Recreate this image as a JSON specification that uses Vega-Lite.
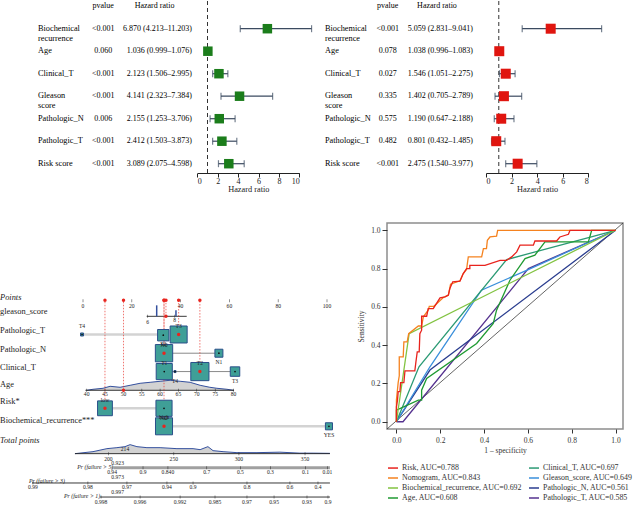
{
"$schema":"https://vega.github.io/schema/vega-lite/v6.json",
"padding":0,"background":"white","spacing":27,
"datasets":{
"fa":[
{"var":"Biochemical recurrence","lab":["Biochemical","recurrence"],"p":"<0.001","hrt":"6.870 (4.213–11.203)","hr":6.870,"lo":4.213,"hi":11.203},
{"var":"Age","lab":"Age","p":"0.060","hrt":"1.036 (0.999–1.076)","hr":1.036,"lo":0.999,"hi":1.076},
{"var":"Clinical_T","lab":"Clinical_T","p":"<0.001","hrt":"2.123 (1.506–2.995)","hr":2.123,"lo":1.506,"hi":2.995},
{"var":"Gleason score","lab":["Gleason","score"],"p":"<0.001","hrt":"4.141 (2.323–7.384)","hr":4.141,"lo":2.323,"hi":7.384},
{"var":"Pathologic_N","lab":"Pathologic_N","p":"0.006","hrt":"2.155 (1.253–3.706)","hr":2.155,"lo":1.253,"hi":3.706},
{"var":"Pathologic_T","lab":"Pathologic_T","p":"<0.001","hrt":"2.412 (1.503–3.873)","hr":2.412,"lo":1.503,"hi":3.873},
{"var":"Risk score","lab":"Risk score","p":"<0.001","hrt":"3.089 (2.075–4.598)","hr":3.089,"lo":2.075,"hi":4.598}],
"fb":[
{"var":"Biochemical recurrence","lab":["Biochemical","recurrence"],"p":"<0.001","hrt":"5.059 (2.831–9.041)","hr":5.059,"lo":2.831,"hi":9.041},
{"var":"Age","lab":"Age","p":"0.078","hrt":"1.038 (0.996–1.083)","hr":1.038,"lo":0.996,"hi":1.083},
{"var":"Clinical_T","lab":"Clinical_T","p":"0.027","hrt":"1.546 (1.051–2.275)","hr":1.546,"lo":1.051,"hi":2.275},
{"var":"Gleason score","lab":["Gleason","score"],"p":"0.335","hrt":"1.402 (0.705–2.789)","hr":1.402,"lo":0.705,"hi":2.789},
{"var":"Pathologic_N","lab":"Pathologic_N","p":"0.575","hrt":"1.190 (0.647–2.188)","hr":1.190,"lo":0.647,"hi":2.188},
{"var":"Pathologic_T","lab":"Pathologic_T","p":"0.482","hrt":"0.801 (0.432–1.485)","hr":0.801,"lo":0.432,"hi":1.485},
{"var":"Risk score","lab":"Risk score","p":"<0.001","hrt":"2.475 (1.540–3.977)","hr":2.475,"lo":1.540,"hi":3.977}],
"nlab":[
{"t":"Points","pts":-34,"row":-0.19,"it":true},
{"t":"gleason_score","pts":-34,"row":0.61,"it":false},
{"t":"Pathologic_T","pts":-34,"row":1.67,"it":false},
{"t":"Pathologic_N","pts":-34,"row":2.69,"it":false},
{"t":"Clinical_T","pts":-34,"row":3.7,"it":false},
{"t":"Age","pts":-34,"row":4.63,"it":false},
{"t":"Risk*","pts":-34,"row":5.61,"it":false},
{"t":"Biochemical_recurrence***","pts":-34,"row":6.67,"it":false},
{"t":"Total points","pts":-34,"row":7.74,"it":true}],
"nprlab":[
{"t":"Pr (failure > 5)","pts":12.4,"row":9.26},
{"t":"Pr (failure > 3)","pts":-7.4,"row":10.04},
{"t":"Pr (failure > 1)","pts":7.0,"row":10.85}],
"ntl":[
{"t":"0","pts":0,"row":0.32,"ar":0.03},{"t":"20","pts":20,"row":0.32,"ar":0.03},{"t":"40","pts":40,"row":0.32,"ar":0.03},{"t":"60","pts":60,"row":0.32,"ar":0.03},{"t":"80","pts":80,"row":0.32,"ar":0.03},{"t":"100","pts":100,"row":0.32,"ar":0.03},
{"t":"6","pts":26.5,"row":1.2,"ar":0.89},{"t":"8","pts":37.6,"row":1.12,"ar":0.89},
{"t":"40","pts":1.5,"row":5.2,"ar":5.0},{"t":"45","pts":9.0,"row":5.2,"ar":5.0},{"t":"50","pts":16.6,"row":5.2,"ar":5.0},{"t":"55","pts":24.1,"row":5.2,"ar":5.0},{"t":"60","pts":31.6,"row":5.2,"ar":5.0},{"t":"65","pts":39.1,"row":5.2,"ar":5.0},{"t":"70","pts":46.6,"row":5.2,"ar":5.0},{"t":"75","pts":54.2,"row":5.2,"ar":5.0},{"t":"80","pts":61.7,"row":5.2,"ar":5.0},
{"t":"200","pts":10.4,"row":8.8,"ar":8.52},{"t":"250","pts":37.2,"row":8.8,"ar":8.52},{"t":"300","pts":63.9,"row":8.8,"ar":8.52},{"t":"350","pts":91.0,"row":8.8,"ar":8.52},
{"t":"0.94","pts":11.9,"row":9.56,"ar":9.3},{"t":"0.9","pts":24.6,"row":9.56,"ar":9.3},{"t":"0.840","pts":34.8,"row":9.56,"ar":9.3},{"t":"0.7","pts":50.7,"row":9.56,"ar":9.3},{"t":"0.5","pts":64.5,"row":9.56,"ar":9.3},{"t":"0.3","pts":76.8,"row":9.56,"ar":9.3},{"t":"0.1","pts":91.2,"row":9.56,"ar":9.3},{"t":"0.01","pts":100.2,"row":9.56,"ar":9.3},
{"t":"0.99","pts":-20.5,"row":10.37,"ar":10.15},{"t":"0.98","pts":2.0,"row":10.37,"ar":10.15},{"t":"0.97","pts":18.0,"row":10.37,"ar":10.15},{"t":"0.94","pts":34.4,"row":10.37,"ar":10.15},{"t":"0.9","pts":45.1,"row":10.37,"ar":10.15},{"t":"0.8","pts":67.2,"row":10.37,"ar":10.15},{"t":"0.6","pts":84.8,"row":10.37,"ar":10.15},{"t":"0.4","pts":96.3,"row":10.37,"ar":10.15},
{"t":"0.998","pts":7.4,"row":11.22,"ar":10.93},{"t":"0.996","pts":23.4,"row":11.22,"ar":10.93},{"t":"0.992","pts":39.8,"row":11.22,"ar":10.93},{"t":"0.985","pts":54.1,"row":11.22,"ar":10.93},{"t":"0.97","pts":67.2,"row":11.22,"ar":10.93},{"t":"0.95","pts":78.3,"row":11.22,"ar":10.93},{"t":"0.93","pts":91.8,"row":11.22,"ar":10.93},{"t":"0.9","pts":100.4,"row":11.22,"ar":10.93},
{"t":"214","pts":17.2,"row":8.24,"ar":null},{"t":"0.923","pts":14.2,"row":9.04,"ar":null},{"t":"0.973","pts":14.2,"row":9.82,"ar":null},{"t":"0.997","pts":14.2,"row":10.65,"ar":null}],
"nline":[
{"k":"axis","pts":26.1,"pts2":42.5,"row":0.89},
{"k":"axis","pts":1.0,"pts2":61.9,"row":5.0},
{"k":"axis","pts":-3.3,"pts2":101.2,"row":8.52},
{"k":"pr5","pts":12.4,"pts2":101.2,"row":9.3},
{"k":"axis","pts":-20.9,"pts2":101.2,"row":10.15},
{"k":"axis","pts":7.0,"pts2":101.2,"row":10.93},
{"k":"conn","pts":-0.4,"pts2":33.0,"row":1.9},
{"k":"conn2","pts":33.2,"pts2":55.7,"row":2.94},
{"k":"conn2","pts":33.3,"pts2":62.3,"row":3.96},
{"k":"conn","pts":9.0,"pts2":33.2,"row":6.0},
{"k":"conn","pts":33.2,"pts2":100.8,"row":7.0}],
"ndens":[
{"g":"Age","base":5.0,"pts":[1.5,4.1,8.2,11.1,15.2,19.3,23.4,27.5,31.6,35.7,39.8,43.9,48.0,52.0,54.9,59.0,61.7],"row":[5.0,4.944,4.889,4.778,4.833,4.722,4.611,4.556,4.5,4.444,4.5,4.556,4.722,4.833,4.889,4.944,5.0]},
{"g":"Total","base":8.52,"pts":[-3.3,4.1,9.8,13.9,17.2,19.3,22.1,26.2,31.6,38.5,45.1,48.0,51.2,53.3,57.4,63.1,71.3,80.7,88.9,94.3,101.2],"row":[8.52,8.409,8.242,8.187,8.131,8.02,8.131,8.187,8.187,8.242,8.242,8.298,8.131,8.353,8.409,8.464,8.464,8.437,8.492,8.492,8.503]}],
"nspike":[{"pts":30.2,"row":0.28,"row2":0.89},{"pts":38.1,"row":0.56,"row2":0.89}],
"nbox":[
{"v":"Pathologic_T","level":"T4","pts":-0.4,"row":1.9,"n":9,"sel":false,"lp":"a"},
{"v":"Pathologic_T","level":"T2","pts":32.9,"row":1.94,"n":130,"sel":false,"lp":"b"},
{"v":"Pathologic_T","level":"T3","pts":39.2,"row":1.9,"n":289,"sel":true,"lp":"a"},
{"v":"Pathologic_N","level":"N0","pts":33.2,"row":2.94,"n":300,"sel":true,"lp":"a"},
{"v":"Pathologic_N","level":"N1","pts":55.7,"row":2.94,"n":64,"sel":false,"lp":"b"},
{"v":"Clinical_T","level":"T1","pts":33.3,"row":3.96,"n":260,"sel":false,"lp":"a"},
{"v":"Clinical_T","level":"T4","pts":37.7,"row":3.96,"n":4,"sel":false,"lp":"b"},
{"v":"Clinical_T","level":"T2","pts":47.9,"row":3.96,"n":330,"sel":true,"lp":"a"},
{"v":"Clinical_T","level":"T3","pts":62.3,"row":3.96,"n":90,"sel":false,"lp":"b"},
{"v":"Risk","level":"low","pts":9.0,"row":6.0,"n":220,"sel":true,"lp":"a"},
{"v":"Risk","level":"high","pts":33.2,"row":6.0,"n":260,"sel":false,"lp":"b"},
{"v":"Biochemical_recurrence","level":"NO","pts":33.2,"row":7.0,"n":290,"sel":true,"lp":"a"},
{"v":"Biochemical_recurrence","level":"YES","pts":100.8,"row":7.0,"n":50,"sel":false,"lp":"b"}],
"nsel":[
{"v":"gleason_score","pts":34.0,"row":0.89},
{"v":"Pathologic_T","pts":39.2,"row":1.9},
{"v":"Pathologic_N","pts":33.2,"row":2.94},
{"v":"Clinical_T","pts":47.9,"row":3.96},
{"v":"Age","pts":16.6,"row":5.0},
{"v":"Risk","pts":9.0,"row":6.0},
{"v":"Biochemical_recurrence","pts":33.2,"row":7.0}],
"roc":[
{"s":"Pathologic_T, AUC=0.585","x":[0,0.03,0.602,1],"y":[0,0,0.8,1]},
{"s":"Pathologic_N, AUC=0.561","x":[0,0.153,1],"y":[0,0.27,1]},
{"s":"Gleason_score, AUC=0.649","x":[0,0.153,0.388,0.594,1],"y":[0,0.287,0.687,0.791,1]},
{"s":"Clinical_T, AUC=0.697","x":[0,0.103,0.503,1],"y":[0,0.287,0.847,1]},
{"s":"Age, AUC=0.608","x":[0,0,0.1,0.115,0.115,0.138,0.366,0.442,0.457,0.518,0.587,0.632,0.678,0.876,0.891,1],"y":[0,0.061,0.113,0.113,0.165,0.226,0.409,0.513,0.583,0.739,0.852,0.87,0.939,0.939,1,1]},
{"s":"Biochemical_recurrence, AUC=0.692","x":[0,0.058,1],"y":[0,0.46,1]},
{"s":"Nomogram, AUC=0.843","x":[0,0,0.008,0.013,0.013,0.031,0.034,0.049,0.056,0.1,0.115,0.123,0.145,0.15,0.171,0.214,0.237,0.247,0.29,0.305,0.32,0.328,0.389,0.397,0.411,0.415,0.427,0.457,0.462,1],"y":[0,0.113,0.204,0.24,0.339,0.339,0.417,0.417,0.46,0.5,0.5,0.548,0.583,0.603,0.603,0.649,0.661,0.718,0.736,0.774,0.795,0.861,0.861,0.904,0.904,0.948,0.965,0.969,1.0,1]},
{"s":"Risk, AUC=0.788","x":[0,0,0.005,0.008,0.016,0.019,0.034,0.039,0.084,0.089,0.095,0.104,0.107,0.115,0.115,0.138,0.145,0.168,0.199,0.222,0.237,0.244,0.257,0.29,0.305,0.32,0.335,0.335,0.404,0.473,0.503,0.526,0.549,0.564,0.625,0.632,0.731,0.746,0.785,0.792,1],"y":[0,0.078,0.113,0.157,0.157,0.204,0.204,0.266,0.266,0.313,0.365,0.365,0.46,0.478,0.551,0.551,0.591,0.591,0.647,0.652,0.661,0.696,0.731,0.734,0.774,0.8,0.8,0.817,0.817,0.843,0.843,0.861,0.887,0.922,0.922,0.944,0.944,0.965,0.979,1.0,1]}],
"diag":[{"x":-0.043,"y":-0.038},{"x":1.034,"y":1.038}]
},
"vconcat":[
{"hconcat":[
{"width":318,"height":172,
"layer":[
{"layer":[
{"data":{"name":"fa"},"mark":{"type":"text","align":"left","baseline":"middle","fontSize":8.3,"lineHeight":10},
"encoding":{"x":{"datum":"label","type":"nominal","bandPosition":0,"scale":{"type":"band","domain":["label","pvalue","hr"],"range":[38,192],"paddingInner":0,"paddingOuter":0},"axis":null},
"y":{"field":"var","type":"nominal","scale":{"type":"point","domain":["header","Biochemical recurrence","Age","Clinical_T","Gleason score","Pathologic_N","Pathologic_T","Risk score"],"range":[5.2,162.7],"padding":0},"axis":null},
"text":{"field":"lab"}}},
{"data":{"name":"fa"},"mark":{"type":"text","align":"center","baseline":"middle","fontSize":8},
"encoding":{"x":{"datum":"pvalue","type":"nominal","bandPosition":0.27,"axis":null},"y":{"field":"var","type":"nominal","axis":null},"text":{"field":"p"}}},
{"data":{"name":"fa"},"mark":{"type":"text","align":"right","baseline":"middle","fontSize":8},
"encoding":{"x":{"datum":"hr","type":"nominal","bandPosition":1,"axis":null},"y":{"field":"var","type":"nominal","axis":null},"text":{"field":"hrt"}}},
{"data":{"values":[{"c":"pvalue","t":"pvalue"},{"c":"hr","t":"Hazard ratio"}]},"mark":{"type":"text","align":"center","baseline":"middle","fontSize":8},
"encoding":{"x":{"field":"c","type":"nominal","bandPosition":0.27,"axis":null},"y":{"datum":"header","type":"nominal","axis":null},"text":{"field":"t"}}}
]},
{"layer":[
{"data":{"values":[{}]},"mark":{"type":"rule","strokeDash":[4,3],"color":"#333","strokeWidth":1},
"encoding":{"x":{"datum":1,"type":"quantitative","scale":{"domain":[0,10],"range":[197.3,299.3],"nice":false,"zero":false},
"axis":{"orient":"bottom","values":[0,2,4,6,8,10],"title":"Hazard ratio","tickSize":4,"labelFontSize":8,"titleFontSize":8.3,"labelPadding":0,"titlePadding":-1,"domainColor":"#222","tickColor":"#222","labelColor":"#222","titleColor":"#222"}}}},
{"data":{"name":"fa"},"mark":{"type":"rule","color":"#3b4a60","strokeWidth":1.2},
"encoding":{"x":{"field":"lo","type":"quantitative"},"x2":{"field":"hi"},"y":{"field":"var","type":"nominal","axis":null}}},
{"data":{"name":"fa"},"mark":{"type":"tick","color":"#3b4a60","thickness":1.2,"size":7},
"encoding":{"x":{"field":"lo","type":"quantitative"},"y":{"field":"var","type":"nominal","axis":null}}},
{"data":{"name":"fa"},"mark":{"type":"tick","color":"#3b4a60","thickness":1.2,"size":7},
"encoding":{"x":{"field":"hi","type":"quantitative"},"y":{"field":"var","type":"nominal","axis":null}}},
{"data":{"name":"fa"},"mark":{"type":"point","shape":"square","filled":true,"color":"#1b7d1b","size":90,"opacity":1},
"encoding":{"x":{"field":"hr","type":"quantitative"},"y":{"field":"var","type":"nominal","axis":null}}}
]}
],
"resolve":{"scale":{"x":"independent"},"axis":{"x":"independent"}}},
{"width":319,"height":172,
"layer":[
{"layer":[
{"data":{"name":"fb"},"mark":{"type":"text","align":"left","baseline":"middle","fontSize":8.3,"lineHeight":10},
"encoding":{"x":{"datum":"label","type":"nominal","bandPosition":0,"scale":{"type":"band","domain":["label","pvalue","hr"],"range":[5,153],"paddingInner":0,"paddingOuter":0},"axis":null},
"y":{"field":"var","type":"nominal","scale":{"type":"point","domain":["header","Biochemical recurrence","Age","Clinical_T","Gleason score","Pathologic_N","Pathologic_T","Risk score"],"range":[5.2,162.7],"padding":0},"axis":null},
"text":{"field":"lab"}}},
{"data":{"name":"fb"},"mark":{"type":"text","align":"center","baseline":"middle","fontSize":8},
"encoding":{"x":{"datum":"pvalue","type":"nominal","bandPosition":0.27,"axis":null},"y":{"field":"var","type":"nominal","axis":null},"text":{"field":"p"}}},
{"data":{"name":"fb"},"mark":{"type":"text","align":"right","baseline":"middle","fontSize":8},
"encoding":{"x":{"datum":"hr","type":"nominal","bandPosition":1,"axis":null},"y":{"field":"var","type":"nominal","axis":null},"text":{"field":"hrt"}}},
{"data":{"values":[{"c":"pvalue","t":"pvalue"},{"c":"hr","t":"Hazard ratio"}]},"mark":{"type":"text","align":"center","baseline":"middle","fontSize":8},
"encoding":{"x":{"field":"c","type":"nominal","bandPosition":0.27,"axis":null},"y":{"datum":"header","type":"nominal","axis":null},"text":{"field":"t"}}}
]},
{"layer":[
{"data":{"values":[{}]},"mark":{"type":"rule","strokeDash":[4,3],"color":"#333","strokeWidth":1},
"encoding":{"x":{"datum":1,"type":"quantitative","scale":{"domain":[0,8],"range":[166,268.3],"nice":false,"zero":false},
"axis":{"orient":"bottom","values":[0,2,4,6,8],"title":"Hazard ratio","tickSize":4,"labelFontSize":8,"titleFontSize":8.3,"labelPadding":0,"titlePadding":-1,"domainColor":"#222","tickColor":"#222","labelColor":"#222","titleColor":"#222"}}}},
{"data":{"name":"fb"},"mark":{"type":"rule","color":"#3b4a60","strokeWidth":1.2},
"encoding":{"x":{"field":"lo","type":"quantitative"},"x2":{"field":"hi"},"y":{"field":"var","type":"nominal","axis":null}}},
{"data":{"name":"fb"},"mark":{"type":"tick","color":"#3b4a60","thickness":1.2,"size":7},
"encoding":{"x":{"field":"lo","type":"quantitative"},"y":{"field":"var","type":"nominal","axis":null}}},
{"data":{"name":"fb"},"mark":{"type":"tick","color":"#3b4a60","thickness":1.2,"size":7},
"encoding":{"x":{"field":"hi","type":"quantitative"},"y":{"field":"var","type":"nominal","axis":null}}},
{"data":{"name":"fb"},"mark":{"type":"point","shape":"square","filled":true,"color":"#e0150f","size":100,"opacity":1},
"encoding":{"x":{"field":"hr","type":"quantitative"},"y":{"field":"var","type":"nominal","axis":null}}}
]}
],
"resolve":{"scale":{"x":"independent"},"axis":{"x":"independent"}}}
],"spacing":2,"bounds":"flush"},
{"hconcat":[
{"width":330,"height":283,
"encoding":{"x":{"field":"pts","type":"quantitative","scale":{"domain":[-34.02,101.23],"nice":false,"zero":false},"axis":null},
"y":{"field":"row","type":"quantitative","scale":{"domain":[-4.294,11.428],"reverse":true,"nice":false,"zero":false},"axis":null}},
"layer":[
{"data":{"name":"ndens"},"transform":[{"flatten":["pts","row"]}],"mark":{"type":"area","color":"#d2d2d2"},"encoding":{"y2":{"field":"base"},"detail":{"field":"g"}}},
{"data":{"name":"ndens"},"transform":[{"flatten":["pts","row"]}],"mark":{"type":"line","color":"#34509e","strokeWidth":1},"encoding":{"detail":{"field":"g"}}},
{"data":{"name":"nline"},"transform":[{"filter":"datum.k=='conn'"}],"mark":{"type":"rule","color":"#d3d3d3","strokeWidth":2.5},"encoding":{"x2":{"field":"pts2"}}},
{"data":{"name":"nline"},"transform":[{"filter":"datum.k=='conn2'"}],"mark":{"type":"rule","color":"#8a8a8a","strokeWidth":1},"encoding":{"x2":{"field":"pts2"}}},
{"data":{"name":"nline"},"transform":[{"filter":"datum.k=='axis'"}],"mark":{"type":"rule","color":"#222","strokeWidth":0.9},"encoding":{"x2":{"field":"pts2"}}},
{"data":{"name":"nline"},"transform":[{"filter":"datum.k=='pr5'"}],"mark":{"type":"rule","color":"#a0a0a0","strokeWidth":3},"encoding":{"x2":{"field":"pts2"}}},
{"data":{"name":"ntl"},"transform":[{"filter":"datum.ar != null"}],"mark":{"type":"tick","orient":"vertical","size":3,"thickness":0.7,"color":"#222"},"encoding":{"y":{"field":"ar","type":"quantitative","axis":null}}},
{"data":{"name":"ntl"},"mark":{"type":"text","fontSize":5.6,"baseline":"middle","color":"#222"},"encoding":{"text":{"field":"t"}}},
{"data":{"name":"nspike"},"mark":{"type":"rule","color":"#34509e","strokeWidth":1.5},"encoding":{"y2":{"field":"row2"}}},
{"data":{"name":"nsel"},"mark":{"type":"rule","color":"#e8342c","strokeDash":[1.5,1.5],"strokeWidth":0.8,"opacity":0.85},"encoding":{"y2":{"datum":0}}},
{"data":{"name":"nbox"},"mark":{"type":"point","shape":"square","filled":true,"fill":"#3f9f97","stroke":"#2a4f8a","strokeWidth":1,"opacity":1},"encoding":{"size":{"field":"n","type":"quantitative","scale":{"domain":[0,300],"range":[0,300]},"legend":null}}},
{"data":{"name":"nbox"},"transform":[{"filter":"!datum.sel"}],"mark":{"type":"point","filled":true,"color":"#111","size":3,"opacity":1}},
{"data":{"name":"nbox"},"transform":[{"filter":"datum.lp=='a'"}],"mark":{"type":"text","fontSize":5.6,"baseline":"middle","dy":-8.5,"color":"#222"},"encoding":{"text":{"field":"level"}}},
{"data":{"name":"nbox"},"transform":[{"filter":"datum.lp=='b'"}],"mark":{"type":"text","fontSize":5.6,"baseline":"middle","dy":9,"color":"#222"},"encoding":{"text":{"field":"level"}}},
{"data":{"name":"nsel"},"mark":{"type":"point","filled":true,"color":"#e8251f","size":12,"opacity":1}},
{"data":{"name":"nsel"},"mark":{"type":"point","filled":true,"color":"#e8251f","size":12,"opacity":1},"encoding":{"y":{"datum":0,"type":"quantitative","axis":null}}},
{"data":{"values":[{"pts":17.6,"total":214}]},"mark":{"type":"rule","color":"#e8251f","strokeWidth":1.5},"encoding":{"y":{"datum":8.3,"type":"quantitative","axis":null},"y2":{"datum":10.94}}},
{"data":{"values":[{"row":8.52},{"row":9.3},{"row":10.15},{"row":10.93}]},"mark":{"type":"point","shape":"triangle-down","filled":true,"color":"#e8251f","size":18,"opacity":1},"encoding":{"x":{"datum":17.6,"type":"quantitative","axis":null}}},
{"data":{"name":"nlab"},"transform":[{"filter":"!datum.it"}],"mark":{"type":"text","align":"left","baseline":"middle","fontSize":8.4,"color":"#222"},"encoding":{"text":{"field":"t"}}},
{"data":{"name":"nlab"},"transform":[{"filter":"datum.it"}],"mark":{"type":"text","align":"left","baseline":"middle","fontSize":8.4,"fontStyle":"italic","color":"#222"},"encoding":{"text":{"field":"t"}}},
{"data":{"name":"nprlab"},"mark":{"type":"text","align":"right","baseline":"middle","fontSize":5.8,"fontStyle":"italic","color":"#222"},"encoding":{"text":{"field":"t"}}}
]},
{"width":236,"height":206,
"view":{"stroke":"#8d8d8d","strokeWidth":1.5},
"encoding":{"x":{"field":"x","type":"quantitative","scale":{"domain":[-0.043,1.034],"nice":false,"zero":false},
"axis":{"title":"1 – specificity","values":[0,0.2,0.4,0.6,0.8,1],"format":".1f","domain":false,"tickSize":4,"tickColor":"#333","labelFontSize":7.5,"labelPadding":3,"titleFontSize":7.5,"titlePadding":3,"labelColor":"#333","titleColor":"#333"}},
"y":{"field":"y","type":"quantitative","scale":{"domain":[-0.038,1.038],"nice":false,"zero":false},
"axis":{"title":"Sensitivity","values":[0,0.2,0.4,0.6,0.8,1],"format":".1f","domain":false,"tickSize":5,"tickColor":"#333","labelFontSize":7.5,"labelPadding":2,"titleFontSize":7.5,"titlePadding":5,"labelColor":"#333","titleColor":"#333"}}},
"layer":[
{"data":{"name":"diag"},"mark":{"type":"line","color":"#222","strokeWidth":0.7}},
{"data":{"name":"roc"},"transform":[{"flatten":["x","y"]},{"window":[{"op":"row_number","as":"i"}]}],
"mark":{"type":"line","strokeWidth":1.3},
"encoding":{"order":{"field":"i","type":"quantitative"},
"color":{"field":"s","type":"nominal","scale":{"domain":["Risk, AUC=0.788","Clinical_T, AUC=0.697","Nomogram, AUC=0.843","Gleason_score, AUC=0.649","Biochemical_recurrence, AUC=0.692","Pathologic_N, AUC=0.561","Age, AUC=0.608","Pathologic_T, AUC=0.585"],"range":["#e8231d","#2b9a74","#f5821f","#3a8fdb","#82c341","#2a3d8f","#1f9a32","#55328f"]},
"legend":{"title":null,"orient":"bottom","columns":2,"symbolType":"stroke","symbolStrokeWidth":1.5,"symbolSize":100,"labelFontSize":7.9,"labelOffset":3,"labelColor":"#333","rowPadding":0,"columnPadding":4,"offset":8}}}}
]}
],"spacing":57,"bounds":"flush","resolve":{"legend":{"color":"independent"},"scale":{"color":"independent"}}}
],
"config":{"view":{"stroke":null},"font":"Liberation Serif","text":{"font":"Liberation Serif"},
"axis":{"labelFont":"Liberation Serif","titleFont":"Liberation Serif","titleFontWeight":"normal","grid":false},
"legend":{"labelFont":"Liberation Serif"}}
}
